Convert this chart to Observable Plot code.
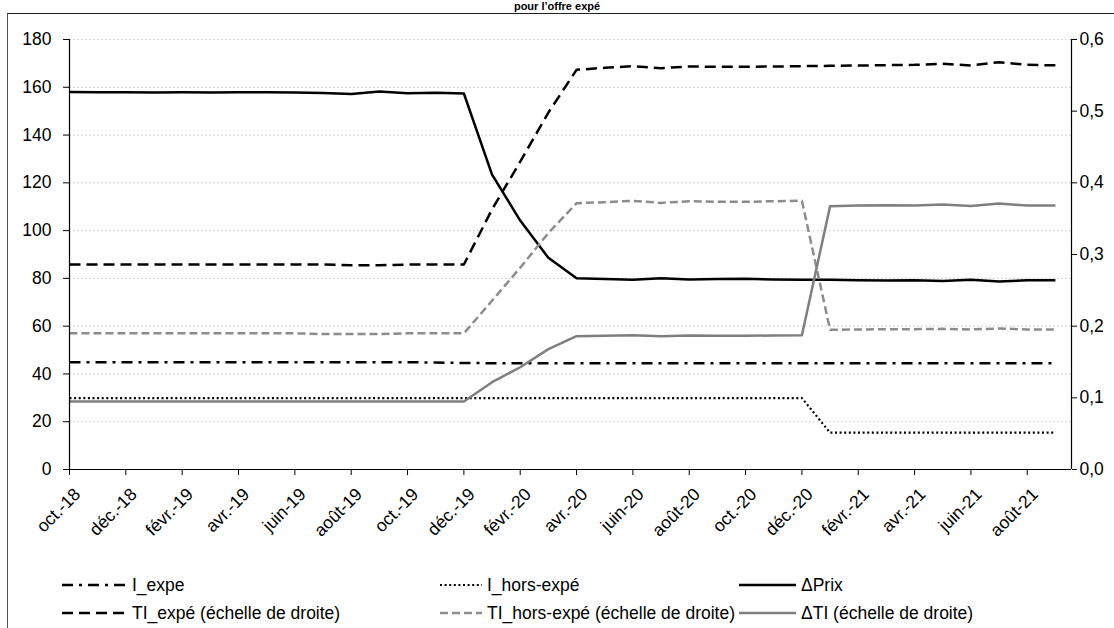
<!DOCTYPE html>
<html><head><meta charset="utf-8">
<script src="https://cdn.jsdelivr.net/npm/d3@7"></script>
<script src="https://cdn.jsdelivr.net/npm/@observablehq/plot@0.6"></script>
<style>
body{margin:0;background:#fff;width:1114px;height:628px;overflow:hidden;position:relative;font-family:"Liberation Sans Narrow","Arial Narrow","Liberation Sans",Arial,sans-serif;}
#frame{position:absolute;left:7px;top:13px;width:1200px;height:700px;border-left:1.5px solid #555;border-top:1.5px solid #222;}
#title{position:absolute;top:0px;left:0;width:1114px;text-align:center;font-weight:bold;font-size:11px;line-height:12px;color:#000}
#chart{position:absolute;left:0;top:0}
.leg{position:absolute;font-size:17.5px;display:flex;align-items:center;white-space:nowrap;height:24px;color:#000}
.leg svg{margin-right:5px}
</style>
</head><body>
<div id="title">pour l’offre expé</div>
<div id="frame"></div>
<div id="chart"></div>
<div id="legend"></div>
<script>
// Month labels (one per data point, Oct 2018 .. Sep 2021)
const months = ["oct.-18","nov.-18","déc.-18","janv.-19","févr.-19","mars-19","avr.-19","mai-19","juin-19","juil.-19","août-19","sept.-19",
  "oct.-19","nov.-19","déc.-19","janv.-20","févr.-20","mars-20","avr.-20","mai-20","juin-20","juil.-20","août-20","sept.-20",
  "oct.-20","nov.-20","déc.-20","janv.-21","févr.-21","mars-21","avr.-21","mai-21","juin-21","juil.-21","août-21","sept.-21"];

// Left-scale series
const iExpe = [44.9,44.9,44.9,44.9,44.9,44.9,44.9,44.9,44.9,44.9,44.9,44.9,44.9,44.8,44.6,44.5,44.5,44.5,44.5,44.5,44.5,44.5,44.5,44.5,44.5,44.5,44.5,44.5,44.5,44.5,44.5,44.5,44.5,44.5,44.5,44.5];
const iHorsExpe = [29.9,29.9,29.9,29.9,29.9,29.9,29.9,29.9,29.9,29.9,29.9,29.9,29.9,29.9,29.9,29.9,29.9,29.9,29.9,29.9,29.9,29.9,29.9,29.9,29.9,29.9,29.9,15.4,15.4,15.4,15.4,15.4,15.4,15.4,15.4,15.4];
const deltaPrix = [158.0,157.9,157.9,157.8,157.9,157.8,157.9,157.9,157.8,157.6,157.2,158.2,157.5,157.7,157.4,123.4,104.2,88.6,80.1,79.7,79.4,80.1,79.5,79.7,79.8,79.5,79.4,79.4,79.2,79.1,79.2,78.9,79.4,78.7,79.2,79.2];
// Right-scale series
const tiExpe = [0.286,0.286,0.286,0.286,0.286,0.286,0.286,0.286,0.286,0.286,0.285,0.285,0.286,0.286,0.286,0.363,0.4295,0.498,0.5577,0.5605,0.5628,0.560,0.5623,0.562,0.562,0.5623,0.5628,0.5632,0.5637,0.5642,0.5646,0.566,0.5637,0.5684,0.5646,0.564];
const tiHorsExpe = [0.190,0.190,0.190,0.190,0.190,0.190,0.190,0.190,0.190,0.189,0.189,0.189,0.190,0.190,0.190,0.2355,0.2816,0.33,0.3716,0.373,0.3749,0.372,0.3744,0.3735,0.3735,0.3744,0.3749,0.1949,0.1954,0.1958,0.1958,0.1963,0.1954,0.1968,0.1954,0.1954];
const deltaTI = [0.095,0.095,0.095,0.095,0.095,0.095,0.095,0.095,0.095,0.095,0.095,0.095,0.095,0.095,0.095,0.1218,0.1427,0.168,0.186,0.1865,0.1874,0.186,0.187,0.1865,0.1865,0.187,0.1874,0.3674,0.3683,0.3688,0.3683,0.3697,0.3678,0.3711,0.3683,0.3683];

const leftTicks = [0,20,40,60,80,100,120,140,160,180];
const rightTicks = [0,0.1,0.2,0.3,0.4,0.5,0.6];
const xTickIdx = d3.range(0, 36, 2);
const RATIO = 180 / 0.6; // right axis 0,6 aligns with left 180

const series = [
  {name:"I_expe", values:iExpe, right:false, stroke:"#000", dash:"11,6,3,6", width:2.5},
  {name:"I_hors-expé", values:iHorsExpe, right:false, stroke:"#000", dash:"2,2.6", width:2.2},
  {name:"ΔPrix", values:deltaPrix, right:false, stroke:"#000", dash:null, width:2.5},
  {name:"TI_expé (échelle de droite)", values:tiExpe, right:true, stroke:"#000", dash:"11,6", width:2.5},
  {name:"TI_hors-expé (échelle de droite)", values:tiHorsExpe, right:true, stroke:"#8c8c8c", dash:"8,4", width:2.5},
  {name:"ΔTI (échelle de droite)", values:deltaTI, right:true, stroke:"#7f7f7f", dash:null, width:2.5}
];

const XMAX = 35.57;
const font = '"Liberation Sans Narrow","Arial Narrow","Liberation Sans",Arial,sans-serif';

const lineMarks = series.map(s => {
  const data = s.values.map((v, i) => ({i, y: s.right ? v * RATIO : v}));
  return Plot.line(data, {x:"i", y:"y", stroke:s.stroke, strokeWidth:s.width, strokeDasharray:s.dash || undefined, strokeLinejoin:"round", strokeLinecap:"butt"});
});

const chart = Plot.plot({
  width:1114, height:560,
  marginLeft:69, marginRight:43, marginTop:39, marginBottom:91,
  style:{fontSize:"17.5px", fontFamily:font, color:"#000", background:"transparent"},
  x:{domain:[0, XMAX], axis:null, label:null},
  y:{domain:[0,180], axis:null, label:null},
  marks:[
    Plot.ruleY(leftTicks.filter(d => d > 0), {stroke:"#cfcfcf", strokeWidth:1.2, strokeDasharray:"1.5,2.5"}),
    ...lineMarks,
    Plot.ruleX([0], {stroke:"#000", strokeWidth:1.2}),
    Plot.ruleX([XMAX], {stroke:"#000", strokeWidth:1.2}),
    Plot.ruleY([0], {stroke:"#000", strokeWidth:1.2}),
    Plot.axisY(leftTicks, {anchor:"left", label:null, tickSize:6, tickPadding:12, tickFormat:d => String(d), stroke:"#000"}),
    Plot.axisY(rightTicks.map(d => d * RATIO), {anchor:"right", label:null, tickSize:5, tickPadding:3, tickFormat:d => (d / RATIO).toFixed(1).replace(".", ","), stroke:"#000"}),
    // tick marks only
    Plot.axisX(xTickIdx, {anchor:"bottom", label:null, tickSize:6, tickFormat:() => "", stroke:"#000"}),
    // rotated labels only
    Plot.axisX(xTickIdx, {anchor:"bottom", label:null, tickSize:0, tickPadding:22, dx:8, tickRotate:-45, tickFormat:i => months[i]})
  ]
});
document.getElementById("chart").appendChild(chart);

// Legend
const legPos = [
  {x:62, y:573, w:65}, {x:440, y:573, w:42}, {x:739, y:573, w:57},
  {x:62, y:601, w:65}, {x:440, y:601, w:42}, {x:739, y:601, w:57}
];
const legend = document.getElementById("legend");
series.forEach((s, k) => {
  const p = legPos[k];
  const div = document.createElement("div");
  div.className = "leg";
  div.style.left = p.x + "px";
  div.style.top = p.y + "px";
  div.innerHTML = `<svg width="${p.w}" height="10"><line x1="0" x2="${p.w}" y1="5" y2="5" stroke="${s.stroke}" stroke-width="${s.width}" ${s.dash ? `stroke-dasharray="${s.dash}"` : ""}/></svg><span>${s.name}</span>`;
  legend.appendChild(div);
});
</script>
</body></html>
